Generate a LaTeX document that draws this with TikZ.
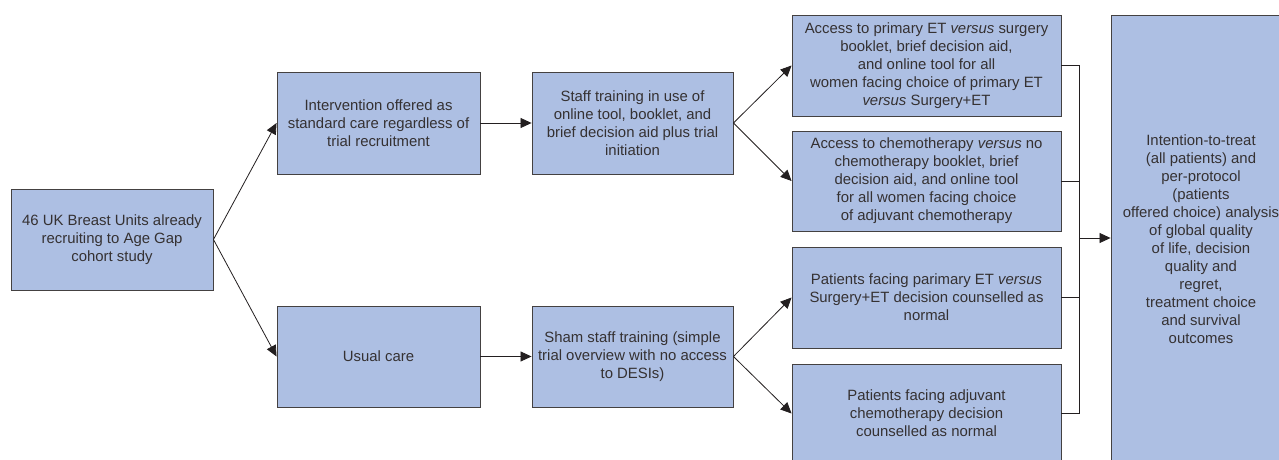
\documentclass[tikz,border=0pt]{standalone}
\usepackage{fontspec}
\setmainfont{Liberation Sans}
\usetikzlibrary{arrows.meta}
\definecolor{boxfill}{RGB}{173,191,227}
\definecolor{ink}{RGB}{35,31,32}
\begin{document}
\begin{tikzpicture}[x=1pt,y=-1pt,
  box/.style={draw=ink!85,line width=0.9pt,fill=boxfill,align=center,inner sep=1pt,
    font=\fontsize{14.9}{18}\selectfont,text=ink!92},
  conn/.style={draw=ink,line width=0.8pt},
  arr/.style={conn,-{Triangle[length=11pt,width=10pt]}}]
\useasboundingbox (0,0) rectangle (1279,460);
\clip (0,0) rectangle (1279,460);
\node[box,minimum width=202pt,minimum height=101pt] (A) at (112,239.5)
  {46 UK Breast Units already\\recruiting to Age Gap\\cohort study};
\node[box,minimum width=203pt,minimum height=102pt] (B) at (378.5,123)
  {Intervention offered as\\standard care regardless of\\trial recruitment};
\node[box,minimum width=201pt,minimum height=102pt] (C) at (632.5,123)
  {Staff training in use of\\online tool, booklet, and\\brief decision aid plus trial\\initiation};
\node[box,minimum width=203pt,minimum height=101pt] (D) at (378.5,356.5)
  {Usual care};
\node[box,minimum width=201pt,minimum height=101pt] (E) at (632.5,356.5)
  {Sham staff training (simple\\trial overview with no access\\to DESIs)};
\node[box,minimum width=269pt,minimum height=101pt] (F) at (926.5,65.5)
  {Access to primary ET \textit{versus} surgery\\booklet, brief decision aid,\\and online tool for all\\women facing choice of primary ET\\\textit{versus} Surgery+ET};
\node[box,minimum width=269pt,minimum height=100pt] (G) at (926.5,181)
  {Access to chemotherapy \textit{versus} no\\chemotherapy booklet, brief\\decision aid, and online tool\\for all women facing choice\\of adjuvant chemotherapy};
\node[box,minimum width=269pt,minimum height=101pt] (H) at (926.5,297.5)
  {Patients facing parimary ET \textit{versus}\\Surgery+ET decision counselled as\\normal};
\node[box,minimum width=269pt,minimum height=99pt] (I) at (926.5,413.5)
  {Patients facing adjuvant\\chemotherapy decision\\counselled as normal};
\node[box,minimum width=180pt,minimum height=448pt] (J) at (1201,239)
  {Intention-to-treat\\(all patients) and\\per-protocol\\(patients\\offered choice) analysis\\of global quality\\of life, decision\\quality and\\regret,\\treatment choice\\and survival\\outcomes};
\coordinate (M) at (1079,238);
\draw[arr] (A.east) -- (B.west);
\draw[arr] (A.east) -- (D.west);
\draw[arr] (B.east) -- (C.west);
\draw[arr] (D.east) -- (E.west);
\draw[arr] (C.east) -- (F.west);
\draw[arr] (C.east) -- (G.west);
\draw[arr] (E.east) -- (H.west);
\draw[arr] (E.east) -- (I.west);
\draw[conn] (F.east) -| (M);
\draw[conn] (G.east) -- (G.east -| M);
\draw[conn] (H.east) -- (H.east -| M);
\draw[conn] (I.east) -| (M);
\draw[arr] (M) -- (M -| J.west);
\end{tikzpicture}
\end{document}
